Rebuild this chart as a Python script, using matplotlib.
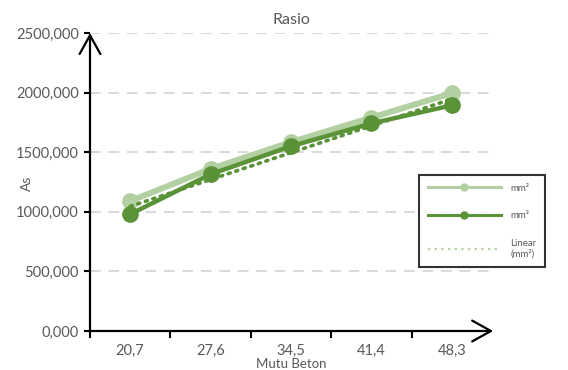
import numpy as np
import matplotlib
matplotlib.use("Agg")
import matplotlib.pyplot as plt
from matplotlib.lines import Line2D
from matplotlib.ticker import FuncFormatter, FixedLocator

# Data
categories = ["20,7", "27,6", "34,5", "41,4", "48,3"]
as_light = [1090, 1360, 1585, 1790, 1995]
as_dark = [980, 1315, 1550, 1742, 1893]
y_ticks = [0, 500, 1000, 1500, 2000, 2500]

LIGHT = "#b2d0a2"
DARK = "#5a9238"
TEXT = "#595959"
GRID = "#d9d9d9"

plt.rcParams["font.family"] = ["Lato", "DejaVu Sans"]

fig = plt.figure(figsize=(5.68, 3.70), dpi=100)
ax = fig.add_axes([90 / 568, 39 / 370, 402 / 568, 298 / 370])

x = np.arange(len(categories))

# Series
ax.plot(x, as_light, color=LIGHT, lw=4.3, marker="o", ms=11,
        solid_capstyle="round", zorder=3)
ax.plot(x, as_dark, color=DARK, lw=3.2, marker="o", ms=11,
        solid_capstyle="round", zorder=4)

# Linear trend of the darker series
coef = np.polyfit(x, as_dark, 1)
ax.plot(x, np.polyval(coef, x), color=DARK, lw=2.6, ls=(0, (0.6, 1.6)),
        dash_capstyle="round", zorder=5)

# Axes limits and ticks
ax.set_xlim(-0.5, len(categories) - 0.5)
ax.set_ylim(0, 2500)
ax.set_yticks(y_ticks)
ax.yaxis.set_major_formatter(FuncFormatter(lambda v, p: f"{v:.3f}".replace(".", ",")))
ax.xaxis.set_major_locator(FixedLocator(np.arange(len(categories)) - 0.5))
ax.xaxis.set_minor_locator(FixedLocator(x))
ax.set_xticklabels([])
ax.set_xticklabels(categories, minor=True)
ax.tick_params(axis="x", which="major", length=5, width=1.5, color="black")
ax.tick_params(axis="x", which="minor", length=0, pad=9, labelsize=10.5,
               labelcolor=TEXT)
ax.tick_params(axis="y", length=4, width=1.5, color="black", pad=4,
               labelsize=10.5, labelcolor=TEXT)

# Gridlines
ax.grid(axis="y", color=GRID, lw=1.4, ls=(0, (5.5, 4)))
ax.set_axisbelow(True)

for s in ax.spines.values():
    s.set_visible(False)

# Arrow axes
arrow_style = "->,head_length=0.45,head_width=0.25"
ax.annotate("", xy=(0, 1), xytext=(0, 0), xycoords="axes fraction",
            arrowprops=dict(arrowstyle=arrow_style, mutation_scale=30,
                            lw=1.6, color="black", shrinkA=0, shrinkB=0),
            annotation_clip=False)
ax.annotate("", xy=(1.003, 0), xytext=(0, 0), xycoords="axes fraction",
            arrowprops=dict(arrowstyle=arrow_style, mutation_scale=30,
                            lw=1.6, color="black", shrinkA=0, shrinkB=0),
            annotation_clip=False)

# Titles
fig.text(291 / 568, 1 - 20 / 370, "Rasio", ha="center", va="center",
         fontsize=11.5, color=TEXT)
fig.text(291 / 568, 1 - 363.5 / 370, "Mutu Beton", ha="center", va="center",
         fontsize=9.5, color=TEXT)
fig.text(27 / 568, 1 - 183 / 370, "As", ha="center", va="center",
         rotation=90, fontsize=10, color=TEXT)

# Legend
handles = [
    Line2D([], [], color=LIGHT, lw=2.2, marker="o", ms=5),
    Line2D([], [], color=DARK, lw=2.2, marker="o", ms=5),
    Line2D([], [], color=LIGHT, lw=1.6, ls=(0, (1, 2))),
]
labels = ["mm²", "mm²", "Linear\n(mm²)"]
leg = fig.legend(handles, labels, loc="upper left",
                 bbox_to_anchor=(419 / 568, 1 - 175 / 370),
                 fontsize=7, labelcolor=TEXT, frameon=True, fancybox=False,
                 edgecolor="black", handlelength=7.5, handletextpad=1.0,
                 labelspacing=1.9, borderpad=0.9, borderaxespad=0)
leg.get_frame().set_linewidth(1.5)

fig.savefig("out.png", dpi=100)
